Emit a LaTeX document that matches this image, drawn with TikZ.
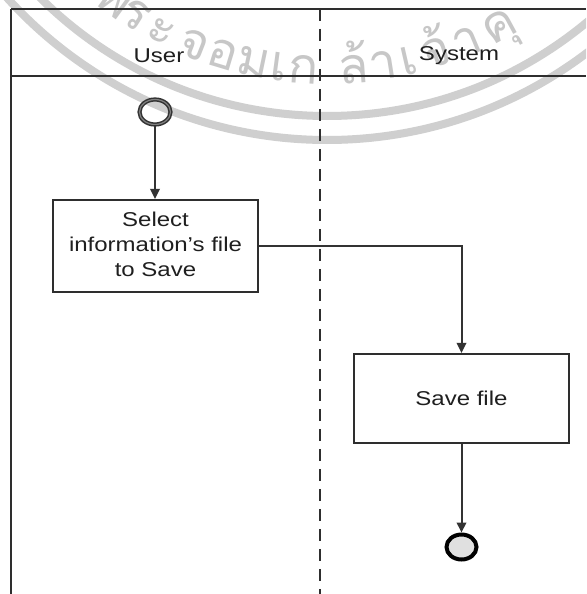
\documentclass[tikz,border=0pt]{standalone}
\usepackage{graphicx}
\usepackage{fontspec}
\setmainfont{Liberation Sans}
\newfontfamily\thaifont[Script=Thai]{Loma}
\usetikzlibrary{shapes.geometric,arrows.meta,calc}
\newcommand{\wid}[1]{\scalebox{1.2}[1]{#1}}
\begin{document}
\begin{tikzpicture}[x=1pt,y=-1pt,
  ln/.style={draw=black!82, line width=2.1pt},
  act/.style={draw=black!82, line width=2.2pt, rectangle, inner sep=0pt,
    font=\fontsize{20}{25}\selectfont, text=black!88},
  conn/.style={draw=black!80, line width=2pt, -{Triangle[length=10pt,width=9.5pt]}},
  hdr/.style={font=\fontsize{20}{24}\selectfont, text=black!88, inner sep=0pt, anchor=base},
  band/.style={draw=black!19, line width=8pt},
  wm/.style={font=\thaifont\fontsize{50}{52}\selectfont, text=black!22, inner sep=0pt, anchor=base}
]
\useasboundingbox (0,0) rectangle (586,594);
\fill[white] (0,0) rectangle (586,594);
% watermark
\begin{scope}
\clip (0,0) rectangle (586,594);
\coordinate (wc) at (327,-291);
\draw[band] (wc) circle[radius=407];
\draw[band] (wc) circle[radius=431];
\foreach \a/\g [count=\i] in {-36.1/พ,-32.0/ร,-27.3/ะ,-21.5/จ,-16.8/อ,-11.8/ม,-7.6/เ,-3.8/ก,4.2/ล้,9.0/า,13.0/เ,17.6/จ้,22.8/า,28.5/คุ}
  \node[wm, rotate=\a] (wm\i) at ($(wc)+({375*sin(\a)},{375*cos(\a)})$) {\g};
\end{scope}
% swimlanes
\coordinate (tl) at (11,9);
\coordinate (tr) at (586,9);
\coordinate (hl) at (11,76);
\coordinate (hr) at (586,76);
\coordinate (bl) at (11,594);
\coordinate (dt) at (320,9);
\coordinate (db) at (320,594);
\draw[ln] (tl) -- (tr);
\draw[ln] (hl) -- (hr);
\draw[ln] (tl) -- (bl);
\draw[ln, dash pattern=on 12pt off 8pt] (dt) -- (db);
\node[hdr] (user) at (159,63) {\wid{User}};
\node[hdr] (system) at (459,61) {\wid{System}};
% nodes
\node[draw=black!80, ellipse, line width=1.5pt, double=black!50, double distance=1.2pt,
  minimum width=31pt, minimum height=25pt, inner sep=0pt] (start) at (155,112) {};
\node[act, minimum width=205pt, minimum height=92pt] (sel) at (155.5,246)
  {\wid{\begin{tabular}{@{}c@{}}Select\\information's file\\to Save\end{tabular}}};
\node[act, minimum width=215pt, minimum height=89pt] (save) at (461.5,398.5) {\wid{Save file}};
\node[draw=black, fill=black!12, ellipse, line width=4pt,
  minimum width=30pt, minimum height=25pt, inner sep=0pt] (fin) at (461.5,547) {};
% connectors
\draw[conn] (start.south) -- (start.south |- sel.north);
\draw[conn] (sel.east) -| (save.north);
\draw[conn] (save.south) -- (fin.north);
\end{tikzpicture}
\end{document}
